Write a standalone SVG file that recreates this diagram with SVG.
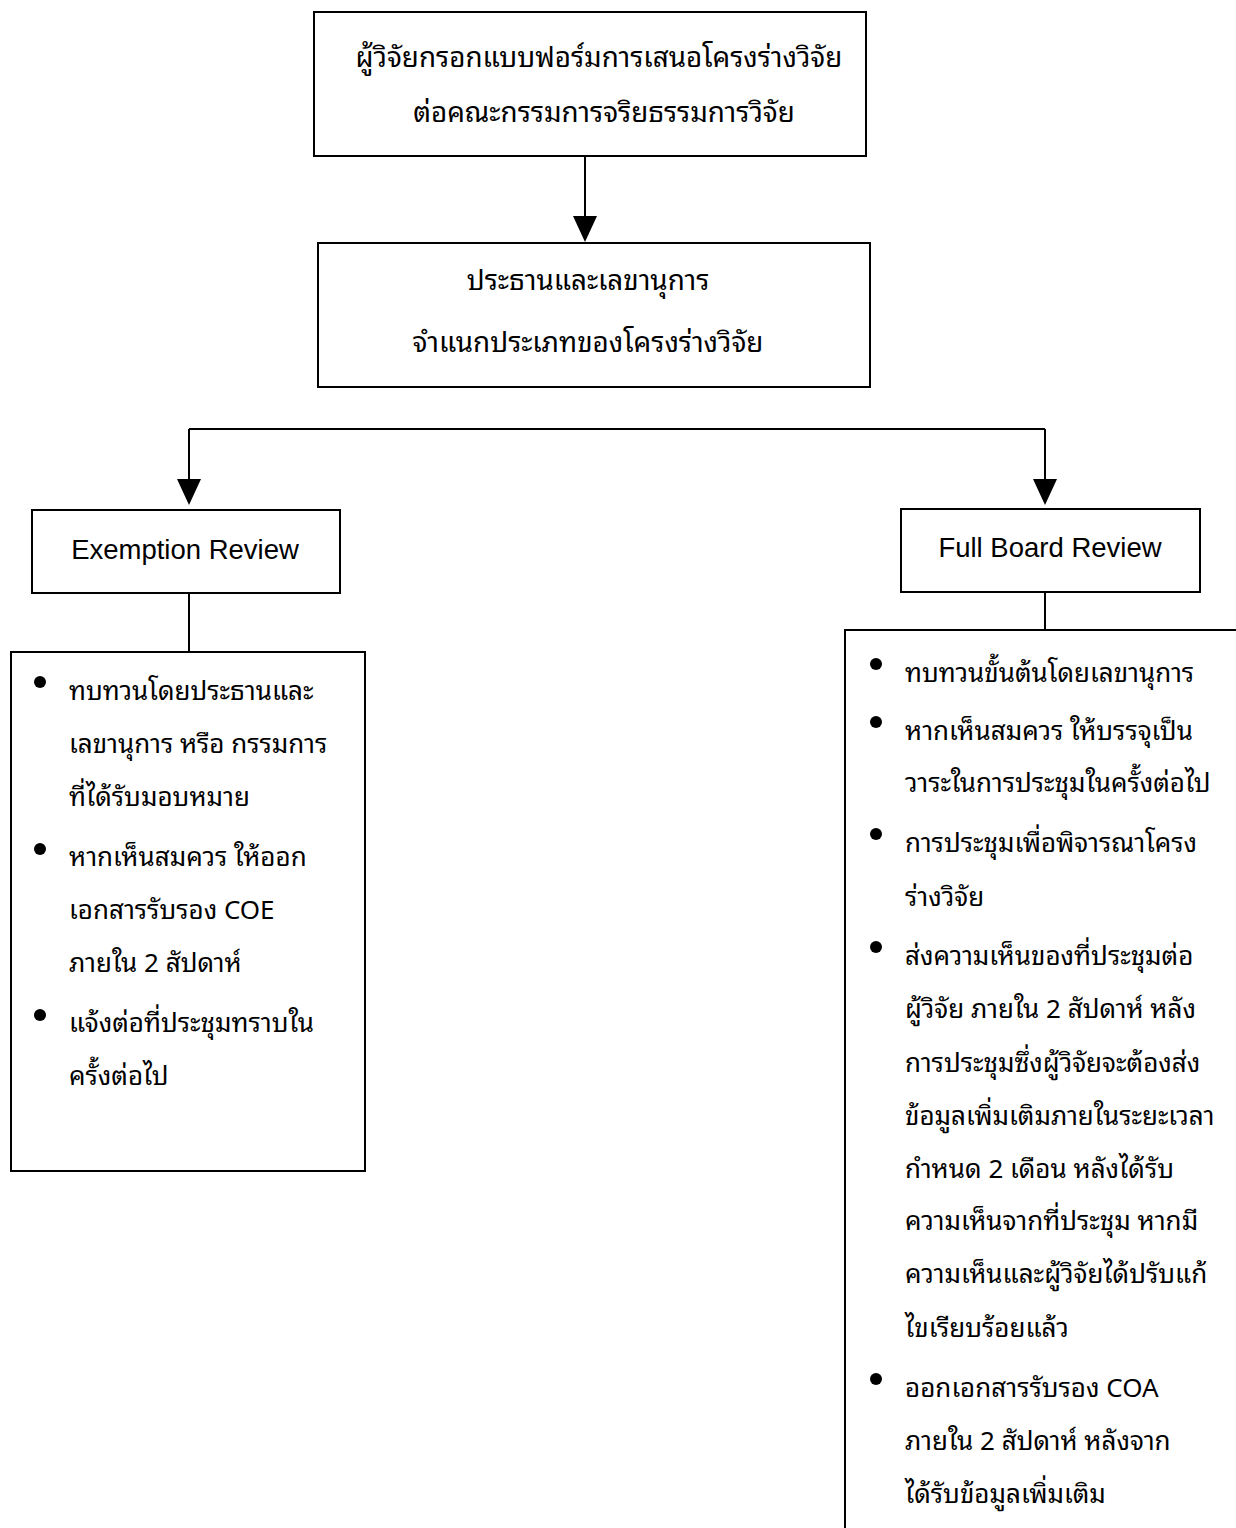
<svg xmlns="http://www.w3.org/2000/svg" width="1236" height="1528" viewBox="0 0 1236 1528">
<defs>
<style>
.box{fill:#fff;stroke:#000;stroke-width:2}
.ln{fill:none;stroke:#000;stroke-width:2}
.ah{fill:#000}
.th{font-family:"Noto Sans Thai Looped","Loma","Liberation Sans","Noto Sans Thai",sans-serif;font-size:26px;fill:#000}
.hd{font-size:27.8px}
.en{font-family:"Liberation Sans",Arial,sans-serif;font-size:27.5px;fill:#000}
.bul{fill:#000}
</style>
</defs>
<rect width="1236" height="1528" fill="#fff"/>
<g id="connectors">
<line class="ln" x1="585" y1="156" x2="585" y2="218"/>
<polygon class="ah" points="573,216 597,216 585,242"/>
<line class="ln" x1="189" y1="429" x2="1045" y2="429"/>
<line class="ln" x1="189" y1="429" x2="189" y2="481"/>
<polygon class="ah" points="177,479 201,479 189,505"/>
<line class="ln" x1="1045" y1="429" x2="1045" y2="481"/>
<polygon class="ah" points="1033,479 1057,479 1045,505"/>
<line class="ln" x1="189" y1="593" x2="189" y2="652"/>
<line class="ln" x1="1045" y1="592" x2="1045" y2="630"/>
</g>
<g id="node-submit">
<rect class="box" x="314" y="12" width="552" height="144"/>
<text class="th hd" x="599" y="67" text-anchor="middle">ผู้วิจัยกรอกแบบฟอร์มการเสนอโครงร่างวิจัย</text>
<text class="th hd" x="604" y="122" text-anchor="middle">ต่อคณะกรรมการจริยธรรมการวิจัย</text>
</g>
<g id="node-classify">
<rect class="box" x="318" y="243" width="552" height="144"/>
<text class="th hd" x="588" y="290" text-anchor="middle">ประธานและเลขานุการ</text>
<text class="th hd" x="588" y="352" text-anchor="middle">จำแนกประเภทของโครงร่างวิจัย</text>
</g>
<g id="node-exemption">
<rect class="box" x="32" y="510" width="308" height="83"/>
<text class="en" x="185" y="559" text-anchor="middle">Exemption Review</text>
</g>
<g id="node-fullboard">
<rect class="box" x="901" y="509" width="299" height="83"/>
<text class="en" x="1050" y="557" text-anchor="middle">Full Board Review</text>
</g>
<g id="node-exemption-steps">
<rect class="box" x="11" y="652" width="354" height="519"/>
<circle class="bul" cx="40" cy="682" r="6"/>
<circle class="bul" cx="40" cy="849" r="6"/>
<circle class="bul" cx="40" cy="1015" r="6"/>
<text class="th" x="69" y="700">ทบทวนโดยประธานและ</text>
<text class="th" x="69" y="753">เลขานุการ หรือ กรรมการ</text>
<text class="th" x="69" y="806">ที่ได้รับมอบหมาย</text>
<text class="th" x="69" y="866">หากเห็นสมควร ให้ออก</text>
<text class="th" x="69" y="919">เอกสารรับรอง COE</text>
<text class="th" x="69" y="972">ภายใน 2 สัปดาห์</text>
<text class="th" x="69" y="1032">แจ้งต่อที่ประชุมทราบใน</text>
<text class="th" x="69" y="1085">ครั้งต่อไป</text>
</g>
<g id="node-fullboard-steps">
<rect class="box" x="845" y="630" width="420" height="960"/>
<circle class="bul" cx="876" cy="664" r="6"/>
<circle class="bul" cx="876" cy="722" r="6"/>
<circle class="bul" cx="876" cy="834" r="6"/>
<circle class="bul" cx="876" cy="947" r="6"/>
<circle class="bul" cx="876" cy="1379" r="6"/>
<text class="th" x="905" y="682">ทบทวนขั้นต้นโดยเลขานุการ</text>
<text class="th" x="905" y="740">หากเห็นสมควร ให้บรรจุเป็น</text>
<text class="th" x="905" y="792">วาระในการประชุมในครั้งต่อไป</text>
<text class="th" x="905" y="852">การประชุมเพื่อพิจารณาโครง</text>
<text class="th" x="905" y="906">ร่างวิจัย</text>
<text class="th" x="905" y="965">ส่งความเห็นของที่ประชุมต่อ</text>
<text class="th" x="905" y="1018">ผู้วิจัย ภายใน 2 สัปดาห์ หลัง</text>
<text class="th" x="905" y="1072">การประชุมซึ่งผู้วิจัยจะต้องส่ง</text>
<text class="th" x="905" y="1125">ข้อมูลเพิ่มเติมภายในระยะเวลา</text>
<text class="th" x="905" y="1178">กำหนด 2 เดือน หลังได้รับ</text>
<text class="th" x="905" y="1230">ความเห็นจากที่ประชุม หากมี</text>
<text class="th" x="905" y="1283">ความเห็นและผู้วิจัยได้ปรับแก้</text>
<text class="th" x="905" y="1337">ไขเรียบร้อยแล้ว</text>
<text class="th" x="905" y="1397">ออกเอกสารรับรอง COA</text>
<text class="th" x="905" y="1450">ภายใน 2 สัปดาห์ หลังจาก</text>
<text class="th" x="905" y="1503">ได้รับข้อมูลเพิ่มเติม</text>
</g>
</svg>
